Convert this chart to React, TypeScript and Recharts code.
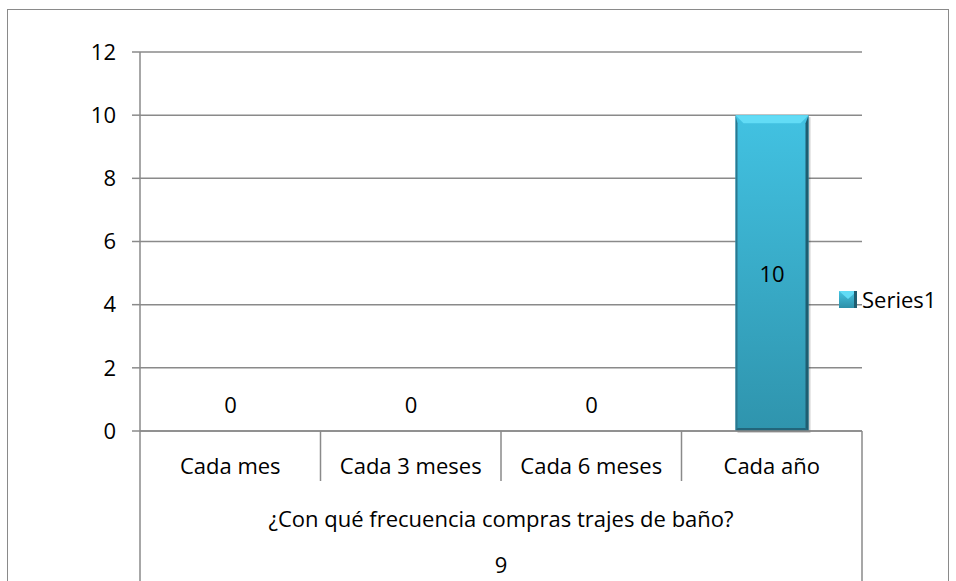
import { BarChart, Bar, XAxis, YAxis, CartesianGrid, Legend, LabelList } from "recharts";

const categories = ["Cada mes", "Cada 3 meses", "Cada 6 meses", "Cada año"];
const values = [0, 0, 0, 10];
const yTicks = [0, 2, 4, 6, 8, 10, 12];
const groupTitle = "¿Con qué frecuencia compras trajes de baño?";
const groupSub = "9";
const seriesName = "Series1";

const data = categories.map((cat, i) => ({ cat, value: values[i] }));

const W = 956;
const H = 600;
const MARGIN = { top: 52, right: 94, left: 80, bottom: 0 };
const YAXIS_W = 60;
const PLOT_W = W - MARGIN.left - YAXIS_W - MARGIN.right;
const BAND = PLOT_W / categories.length;
const LINE = "#8a8a8a";
const FONT = "'Open Sans', Lato, sans-serif";
const FS = 22;

const CategoryTick = (props: any) => {
  const { x, y, index, payload } = props;
  const left = x - BAND / 2;
  const right = x + BAND / 2;
  return (
    <g>
      {index > 0 && <line x1={left} x2={left} y1={y} y2={y + 50} stroke={LINE} strokeWidth={1.5} />}
      {index === 0 && <line x1={left} x2={left} y1={y} y2={y + 200} stroke={LINE} strokeWidth={1.5} />}
      {index === categories.length - 1 && (
        <line x1={right} x2={right} y1={y} y2={y + 200} stroke={LINE} strokeWidth={1.5} />
      )}
      <text x={x} y={y + 34} textAnchor="middle" dominantBaseline="central" fontSize={FS} fill="#000" fontFamily={FONT}>
        {payload.value}
      </text>
      {index === 0 && (
        <>
          <text x={left + PLOT_W / 2} y={y + 87} textAnchor="middle" dominantBaseline="central" fontSize={FS} fill="#000" fontFamily={FONT}>
            {groupTitle}
          </text>
          <text x={left + PLOT_W / 2} y={y + 133} textAnchor="middle" dominantBaseline="central" fontSize={FS} fill="#000" fontFamily={FONT}>
            {groupSub}
          </text>
        </>
      )}
    </g>
  );
};

const BevelBar = (props: any) => {
  const { x, y, width, height } = props;
  if (!height || height <= 0) return null;
  const b = 8;
  return (
    <g>
      <rect x={x + 2} y={y + 2} width={width} height={height} fill="rgba(0,0,0,0.18)" />
      <rect x={x} y={y} width={width} height={height} fill="url(#barGrad)" />
      <polygon points={`${x},${y} ${x + width},${y} ${x + width - b},${y + b} ${x + b},${y + b}`} fill="#62dcf6" />
      <polygon points={`${x + width},${y} ${x + width},${y + height} ${x + width - 3},${y + height - 3} ${x + width - 3},${y + b}`} fill="#1f5d70" />
      <polygon points={`${x},${y} ${x + 2},${y + b} ${x + 2},${y + height - 2} ${x},${y + height}`} fill="#2a7890" />
      <polygon points={`${x},${y + height} ${x + width},${y + height} ${x + width - 3},${y + height - 3} ${x + 2},${y + height - 3}`} fill="#22657a" />
    </g>
  );
};

const ValueLabel = (props: any) => {
  const { x, y, width, height, value } = props;
  const cx = x + width / 2;
  const cy = value === 0 ? y - 27 : y + height / 2;
  return (
    <text x={cx} y={cy} textAnchor="middle" dominantBaseline="central" fontSize={FS} fill="#000" fontFamily={FONT}>
      {value}
    </text>
  );
};

const LegendContent = () => (
  <div style={{ display: "flex", alignItems: "center", fontFamily: FONT, fontSize: FS, color: "#000" }}>
    <svg width={18} height={17} style={{ marginRight: 5 }}>
      <defs>
        <linearGradient id="legGrad" x1="0" y1="0" x2="0" y2="1">
          <stop offset="0%" stopColor="#45c4e2" />
          <stop offset="100%" stopColor="#2c8fa8" />
        </linearGradient>
      </defs>
      <rect x={0} y={0} width={18} height={17} fill="url(#legGrad)" />
      <polygon points="0,0 18,0 9,8" fill="#62dcf6" />
      <rect x={15} y={0} width={3} height={17} fill="#1f5d70" />
    </svg>
    <span>{seriesName}</span>
  </div>
);

export default function App() {
  return (
    <div style={{ position: "fixed", left: 0, top: 0, width: 956, height: 581, overflow: "hidden", background: "#fff" }}>
      <div
        style={{
          position: "absolute",
          left: 7,
          top: 9,
          width: 940,
          height: 620,
          border: `1.5px solid ${LINE}`,
        }}
      />
      <div style={{ position: "absolute", left: 0, top: 0 }}>
        <BarChart width={W} height={H} data={data} margin={MARGIN}>
          <defs>
            <linearGradient id="barGrad" x1="0" y1="0" x2="0" y2="1">
              <stop offset="0%" stopColor="#42c2e2" />
              <stop offset="100%" stopColor="#2f94ad" />
            </linearGradient>
          </defs>
          <CartesianGrid vertical={false} stroke={LINE} strokeWidth={1.5} />
          <YAxis
            width={YAXIS_W}
            domain={[0, 12]}
            ticks={yTicks}
            interval={0}
            tickSize={8}
            tickMargin={16}
            axisLine={{ stroke: LINE, strokeWidth: 1.5 }}
            tickLine={{ stroke: LINE, strokeWidth: 1.5 }}
            tick={{ fontSize: FS, fill: "#000", fontFamily: FONT }}
          />
          <XAxis
            dataKey="cat"
            height={H - MARGIN.top - 379}
            interval={0}
            tickSize={0}
            tickMargin={0}
            tickLine={false}
            axisLine={{ stroke: LINE, strokeWidth: 1.5 }}
            tick={<CategoryTick />}
          />
          <Legend
            layout="horizontal"
            verticalAlign="middle"
            align="center"
            wrapperStyle={{ left: 839, top: 284, width: "auto" }}
            content={<LegendContent />}
          />
          <Bar dataKey="value" name={seriesName} barSize={73} shape={<BevelBar />} isAnimationActive={false}>
            <LabelList dataKey="value" content={<ValueLabel />} />
          </Bar>
        </BarChart>
      </div>
    </div>
  );
}
